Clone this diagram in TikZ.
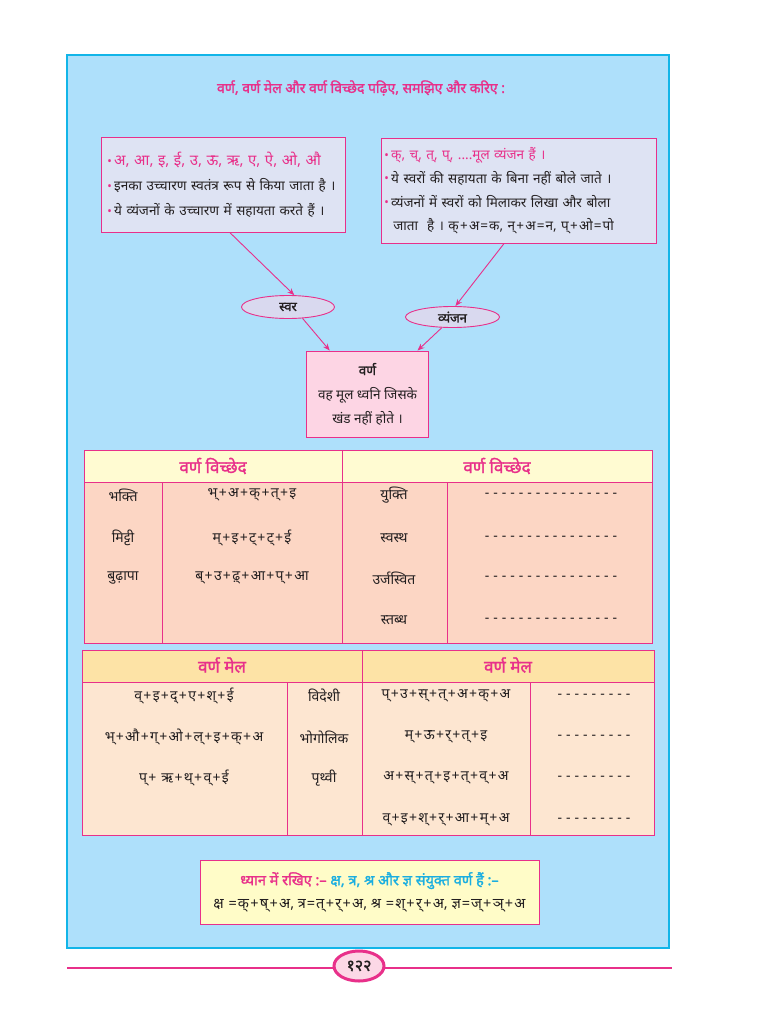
\documentclass[tikz,border=0pt]{standalone}
\usepackage{fontspec}
\setmainfont[Script=Devanagari, BoldFont={Noto Sans}, BoldFeatures={FakeBold=1.6}]{Noto Sans}
\usetikzlibrary{arrows.meta,shapes.geometric}
\definecolor{mag}{HTML}{E8308A}
\definecolor{panel}{HTML}{AEE0FB}
\definecolor{panelb}{HTML}{12B5E8}
\definecolor{boxf}{HTML}{DEE3F3}
\definecolor{ellf}{HTML}{D9D9EF}
\definecolor{varf}{HTML}{FDD5E4}
\definecolor{hdra}{HTML}{FFFBD2}
\definecolor{bodya}{HTML}{FCD6C4}
\definecolor{hdrb}{HTML}{FDE3A6}
\definecolor{bodyb}{HTML}{FDE6D1}
\definecolor{notef}{HTML}{FFFCC8}
\definecolor{cyant}{HTML}{1AAEE0}
\definecolor{pgf}{HTML}{FCD8E6}
\definecolor{ink}{HTML}{231F20}
\newcommand{\bul}{\textcolor{mag}{\fontsize{12}{12}\selectfont\raisebox{0.5pt}{•}}\,}
\newcommand{\pl}{\hspace{1.3pt}+\hspace{1.3pt}}
\newcommand{\eqs}{\hspace{1pt}=\hspace{1pt}}
\newcommand{\dashrow}[1]{\foreach \i in {1,...,#1}{-\hspace{4pt}}}
\begin{document}
\begin{tikzpicture}[x=1pt,y=-1pt,
  txt/.style={font=\fontsize{14}{16}\selectfont, text=ink},
  hdr/.style={font=\fontsize{17}{19}\selectfont\bfseries, text=mag},
  infobox/.style={draw=mag, line width=0.9pt, fill=boxf, anchor=north west, inner ysep=0pt},
  oval/.style={ellipse, draw=mag, line width=0.9pt, fill=ellf, inner sep=0pt, font=\fontsize{13}{15}\selectfont\bfseries, text=ink},
  arr/.style={draw=mag, line width=0.9pt, -{Stealth[length=7pt,width=5.5pt]}},
  grid/.style={draw=mag, line width=1pt}
]
\useasboundingbox (0,0) rectangle (769,1024);
\fill[white] (0,0) rectangle (769,1024);
\draw[panelb, fill=panel, line width=1.3pt] (67,55) rectangle (669,948);

% title
\node[font=\fontsize{14}{16}\selectfont\bfseries, text=mag] (title) at (361,88)
  {वर्ण, वर्ण मेल और वर्ण विच्छेद पढ़िए, समझिए और करिए :};

% left box
\node[infobox, minimum width=244pt, minimum height=95pt, text width=232pt, inner xsep=6pt, align=left,
  font=\fontsize{13.5}{25}\selectfont, text=ink] (lbox) at (101,137)
  {\bul\textcolor{mag}{\fontsize{15}{25}\selectfont अ, आ, इ, ई, उ, ऊ, ऋ, ए, ऐ, ओ, औ}\\
   \bul इनका उच्चारण स्वतंत्र रूप से किया जाता है ।\\
   \bul ये व्यंजनों के उच्चारण में सहायता करते हैं ।};

% right box
\node[infobox, minimum width=275pt, minimum height=105pt, text width=269pt, inner xsep=3pt, align=left,
  font=\fontsize{13.5}{23.7}\selectfont, text=ink] (rbox) at (381,138)
  {\bul\textcolor{mag}{क्, च्, त्, प्, ....मूल व्यंजन हैं ।}\\
   \bul ये स्वरों की सहायता के बिना नहीं बोले जाते ।\\
   \bul व्यंजनों में स्वरों को मिलाकर लिखा और बोला\\
   \hspace*{9pt}जाता\ \ है । क्\pl अ\eqs क, न्\pl अ\eqs न, प्\pl ओ\eqs पो};

% ovals
\node[oval, minimum width=93pt, minimum height=23pt] (swar) at (288,307) {स्वर};
\node[oval, minimum width=94pt, minimum height=21pt] (vyan) at (452.5,317) {व्यंजन};

% varna box
\node[draw=mag, line width=0.9pt, fill=varf, minimum width=122pt, minimum height=86pt, align=center,
  font=\fontsize{13.5}{24}\selectfont, text=ink] (varna) at (367.5,394)
  {\textbf{वर्ण}\\ वह मूल ध्वनि जिसके\\ खंड नहीं होते ।};

% connectors
\draw[arr] (lbox.-82) -- (swar.62);
\draw[arr] (swar.-38) -- (varna.131);
\draw[arr] (rbox.-106) -- (vyan.75);
\draw[arr] (vyan.-135) -- (varna.41);

% table 1
\fill[hdra] (84,450) rectangle (652,482);
\fill[bodya] (84,482) rectangle (652,643);
\draw[grid] (84,450) rectangle (652,643);
\draw[grid] (84,482) -- (652,482);
\draw[grid] (342,450) -- (342,643);
\draw[grid] (162,482) -- (162,643);
\draw[grid] (447,482) -- (447,643);
\node[hdr] (h1a) at (213,466) {वर्ण विच्छेद};
\node[hdr] (h1b) at (497,466) {वर्ण विच्छेद};
\node[txt] (a1) at (123,495) {भक्ति};
\node[txt] (a2) at (123,538) {मिट्टी};
\node[txt] (a3) at (123,578) {बुढ़ापा};
\node[txt] (b1) at (252,495) {भ्\pl अ\pl क्\pl त्\pl इ};
\node[txt] (b2) at (252,538) {म्\pl इ\pl ट्\pl ट्\pl ई};
\node[txt] (b3) at (252,578) {ब्\pl उ\pl ढ़्\pl आ\pl प्\pl आ};
\node[txt] (c1) at (394,495) {युक्ति};
\node[txt] (c2) at (394,538) {स्वस्थ};
\node[txt] (c3) at (394,578) {उर्जस्वित};
\node[txt] (c4) at (394,620) {स्तब्ध};
\node[txt] (d1) at (551,495) {\dashrow{16}};
\node[txt] (d2) at (551,538) {\dashrow{16}};
\node[txt] (d3) at (551,578) {\dashrow{16}};
\node[txt] (d4) at (551,620) {\dashrow{16}};

% table 2
\fill[hdrb] (82,650) rectangle (654,682);
\fill[bodyb] (82,682) rectangle (654,835);
\draw[grid] (82,650) rectangle (654,835);
\draw[grid] (82,682) -- (654,682);
\draw[grid] (362,650) -- (362,835);
\draw[grid] (287,682) -- (287,835);
\draw[grid] (530,682) -- (530,835);
\node[hdr] (h2a) at (222,665) {वर्ण मेल};
\node[hdr] (h2b) at (508,665) {वर्ण मेल};
\node[txt] (e1) at (184,696) {व्\pl इ\pl द्\pl ए\pl श्\pl ई};
\node[txt] (e2) at (184,737) {भ्\pl औ\pl ग्\pl ओ\pl ल्\pl इ\pl क्\pl अ};
\node[txt] (e3) at (184,778) {प्\pl\ ऋ\pl थ्\pl व्\pl ई};
\node[txt] (f1) at (324,696) {विदेशी};
\node[txt] (f2) at (324,737) {भोगोलिक};
\node[txt] (f3) at (324,778) {पृथ्वी};
\node[txt] (g1) at (446,696) {प्\pl उ\pl स्\pl त्\pl अ\pl क्\pl अ};
\node[txt] (g2) at (446,737) {म्\pl ऊ\pl र्\pl त्\pl इ};
\node[txt] (g3) at (446,778) {अ\pl स्\pl त्\pl इ\pl त्\pl व्\pl अ};
\node[txt] (g4) at (446,820) {व्\pl इ\pl श्\pl र्\pl आ\pl म्\pl अ};
\node[txt] (k1) at (594,696) {\dashrow{9}};
\node[txt] (k2) at (594,737) {\dashrow{9}};
\node[txt] (k3) at (594,778) {\dashrow{9}};
\node[txt] (k4) at (594,820) {\dashrow{9}};

% note box
\node[draw=mag, line width=0.9pt, fill=notef, minimum width=339pt, minimum height=64pt, align=center,
  font=\fontsize{14.5}{23}\selectfont, text=ink] (note) at (369.5,892)
  {{\bfseries\textcolor{mag}{ध्यान में रखिए :–}\ \textcolor{cyant}{क्ष, त्र, श्र और ज्ञ संयुक्त वर्ण हैं :–}}\\
   क्ष \eqs क्\pl ष्\pl अ, त्र\eqs त्\pl र्\pl अ, श्र \eqs श्\pl र्\pl अ, ज्ञ\eqs ज्\pl ञ्\pl अ};

% page number
\draw[mag, line width=2pt] (67,968) -- (672,968);
\node[ellipse, draw=mag, line width=3pt, fill=pgf, minimum width=50pt, minimum height=30pt, inner sep=0pt,
  font=\fontsize{16}{18}\selectfont\bfseries, text=ink] (pg) at (359,966) {१२२};
\end{tikzpicture}
\end{document}
